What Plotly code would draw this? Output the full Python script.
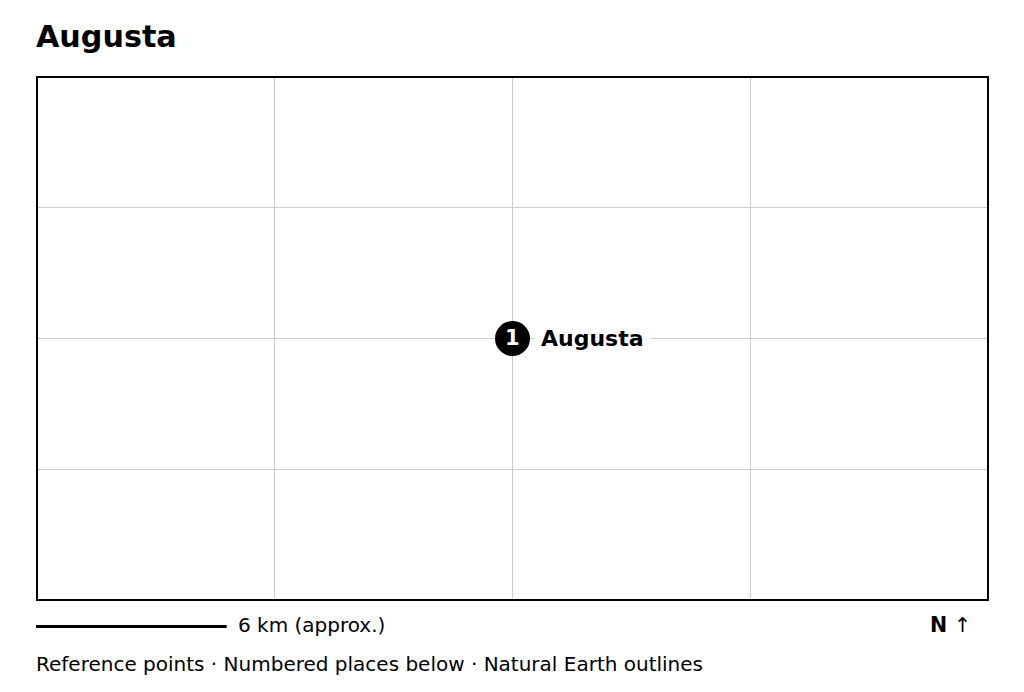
import plotly.graph_objects as go

title = "Augusta"
place_names = ["Augusta"]
place_numbers = ["1"]
place_x_km = [0.0]
place_y_km = [0.0]
x_ticks_km = [-7.5, 0.0, 7.5]
y_ticks_km = [-4.125, 0.0, 4.125]
x_range_km = [-14.97, 14.97]
y_range_km = [-8.2, 8.2]
scale_x_km = [0, 6]
scale_y = [0, 0]
scale_axis_range_km = [-0.19, 6.42]
scale_label = "6 km (approx.)"
north_label = "<b>N</b> ↑"
footer = "Reference points · Numbered places below · Natural Earth outlines"

W, H = 1024, 692
L, R, T, B = 38, 987, 78, 599
FONT = "DejaVu Sans"


def py(pixel_y):
    return 1 - pixel_y / H


def px(pixel_x):
    return pixel_x / W


fig = go.Figure()
fig.add_trace(go.Scatter(
    x=scale_x_km, y=scale_y, xaxis="x2", yaxis="y2",
    mode="lines", line=dict(color="black", width=3),
    hoverinfo="skip", showlegend=False,
))
fig.add_trace(go.Scatter(
    x=place_x_km, y=place_y_km, mode="markers",
    marker=dict(size=35, color="black", line=dict(width=0)),
    hoverinfo="skip", showlegend=False,
))

annotations = []
for i, name in enumerate(place_names):
    annotations.append(dict(
        x=place_x_km[i], y=place_y_km[i], xref="x", yref="y", text=f"<b>{name}</b>",
        showarrow=False, xanchor="left", yanchor="middle", xshift=21,
        font=dict(family=FONT, size=22, color="black"),
        bgcolor="white", borderpad=6))
    annotations.append(dict(
        x=place_x_km[i], y=place_y_km[i], xref="x", yref="y",
        text=f"<b>{place_numbers[i]}</b>", showarrow=False,
        xanchor="center", yanchor="middle", yshift=1, xshift=-0.5,
        font=dict(family=FONT, size=21, color="white")))


def note(text, x_pix, y_pix, size, xanchor="left"):
    return dict(x=px(x_pix), y=py(y_pix), xref="paper", yref="paper", text=text,
                showarrow=False, xanchor=xanchor, yanchor="middle", borderpad=0, borderwidth=0,
                font=dict(family=FONT, size=size, color="black"))


annotations += [
    note(f"<b>{title}</b>", 36, 36.5, 30.2),
    note(scale_label, 238, 625, 20),
    note(north_label, 930, 625, 20.5),
    note(footer, 36, 664, 20),
]

hidden = dict(visible=False, showgrid=False, zeroline=False, fixedrange=True)

fig.update_layout(
    width=W, height=H, autosize=False,
    margin=dict(l=0, r=0, t=0, b=0, pad=0),
    paper_bgcolor="white", plot_bgcolor="white",
    annotations=annotations, showlegend=False,
    xaxis=dict(domain=[px(L), px(R)], range=x_range_km, tickvals=x_ticks_km,
               showticklabels=False, ticks="",
               showgrid=True, gridcolor="#cccccc", gridwidth=1, zeroline=False,
               showline=True, linecolor="black", linewidth=2, mirror=True, fixedrange=True),
    yaxis=dict(domain=[py(B), py(T)], range=y_range_km, tickvals=y_ticks_km,
               showticklabels=False, ticks="",
               showgrid=True, gridcolor="#cccccc", gridwidth=1, zeroline=False,
               showline=True, linecolor="black", linewidth=2, mirror=True, fixedrange=True),
    xaxis2=dict(domain=[px(30), px(240)], range=scale_axis_range_km, anchor="y2", **hidden),
    yaxis2=dict(domain=[py(636.5), py(616.5)], range=[-1, 1], anchor="x2", **hidden),
)

fig.write_html("out.html", config=dict(displayModeBar=False, responsive=False),
               post_script="document.body.style.margin='0';document.body.style.overflow='hidden';")
